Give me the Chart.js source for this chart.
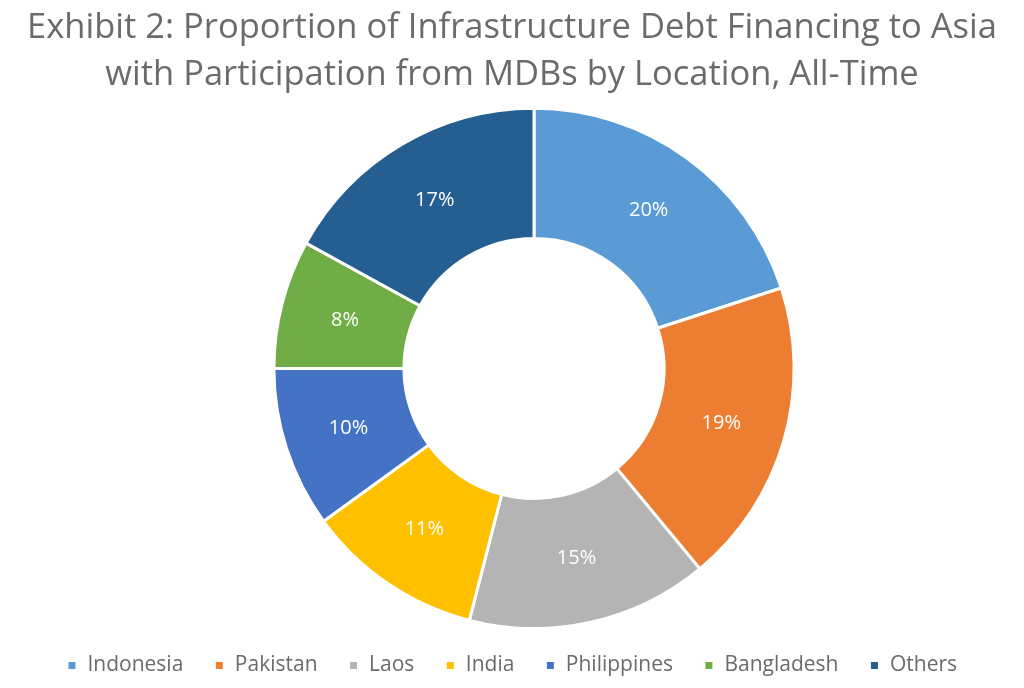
<!DOCTYPE html>
<html>
<head>
<meta charset="utf-8">
<script src="https://cdn.jsdelivr.net/npm/chart.js@4"></script>
<style>
  html, body { margin: 0; padding: 0; background: #fff; }
  #wrap { width: 1024px; height: 688px; }
</style>
</head>
<body>
<div id="wrap"><canvas id="chart"></canvas></div>
<script>
// Chart data
const titleLines = ['Exhibit 2: Proportion of Infrastructure Debt Financing to Asia', 'with Participation from MDBs by Location, All-Time'];
const locations = ['Indonesia', 'Pakistan', 'Laos', 'India', 'Philippines', 'Bangladesh', 'Others'];
const shares = [20, 19, 15, 11, 10, 8, 17];
const sliceColors = ['#5B9BD5', '#ED7D31', '#B4B4B4', '#FFC000', '#4472C4', '#70AD47', '#255E91'];

// Nudge the plot area only (title and legend stay centred on the page)
const plotShift = {
    id: 'plotShift',
    afterLayout(chart) {
        const a = chart.chartArea;
        a.left += 44;
        a.top -= 2;
        a.bottom += 6;
        a.width = a.right - a.left;
        a.height = a.bottom - a.top;
    }
};

// Draw percentage labels in the middle of each slice
const sliceLabels = {
    id: 'sliceLabels',
    afterDatasetsDraw(chart) {
        const ctx = chart.ctx;
        const meta = chart.getDatasetMeta(0);
        ctx.save();
        ctx.fillStyle = '#ffffff';
        ctx.font = '20px "Open Sans", sans-serif';
        ctx.textAlign = 'center';
        ctx.textBaseline = 'middle';
        meta.data.forEach((arc, i) => {
            const pos = arc.tooltipPosition();
            ctx.fillText(shares[i] + '%', pos.x, pos.y);
        });
        ctx.restore();
    }
};

new Chart(document.getElementById('chart'), {
    type: 'doughnut',
    data: {
        labels: locations,
        datasets: [{
            data: shares,
            backgroundColor: sliceColors,
            borderColor: '#ffffff',
            borderWidth: 3,
            cutout: '50%'
        }]
    },
    options: {
        responsive: true,
        maintainAspectRatio: false,
        animation: false,
        layout: {
            padding: { top: 0, bottom: 2, left: 0, right: 0 }
        },
        plugins: {
            title: {
                display: true,
                text: titleLines,
                color: '#6b6b6b',
                font: { family: '"Open Sans", sans-serif', size: 34.5, weight: 'normal', lineHeight: 1.36 },
                padding: { top: 5, bottom: 10 }
            },
            legend: {
                position: 'bottom',
                labels: {
                    color: '#6b6b6b',
                    font: { family: '"Open Sans", sans-serif', size: 21 },
                    usePointStyle: true,
                    pointStyle: 'rect',
                    boxWidth: 10,
                    boxHeight: 10,
                    padding: 31
                }
            },
            tooltip: { enabled: false }
        }
    },
    plugins: [plotShift, sliceLabels]
});
</script>
</body>
</html>
